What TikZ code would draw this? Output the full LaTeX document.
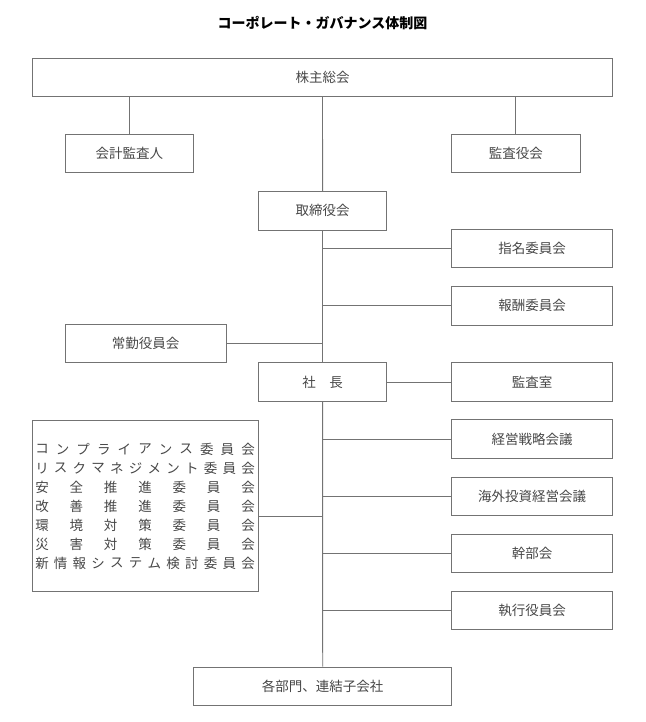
\documentclass[tikz,border=0pt]{standalone}
\usepackage{fontspec}
\setmainfont{Noto Sans CJK JP}
\usepackage{tikz}

\begin{document}
\begin{tikzpicture}[x=1pt, y=-1pt,
  box/.style={draw=black!55, line width=0.9pt, minimum height=38.4pt, inner sep=0pt,
    text=black!72, font=\fontsize{13.5}{16}\selectfont},
  line/.style={draw=black!55, line width=0.9pt},
  listch/.style={inner sep=0pt, text=black!72, font=\fontsize{13.5}{16}\selectfont}]
\useasboundingbox (0,0) rectangle (645,722);

%title
\node[font=\bfseries\fontsize{14}{16}\selectfont] (title) at (322.5,23) {コーポレート・ガバナンス体制図};

%top
\node[box, minimum width=580pt] (soukai) at (322.5,77.5) {株主総会};
\node[box, minimum width=128.5pt] (kaikei) at (129.3,153.5) {会計監査人};
\node[box, minimum width=128.5pt] (kansayaku) at (515.8,153.5) {監査役会};
\node[box, minimum width=128.5pt] (torishimari) at (322.6,210.8) {取締役会};

%right side
\node[box, minimum width=161pt] (shimei) at (532.2,248.5) {指名委員会};
\node[box, minimum width=161pt] (houshu) at (532.2,305.8) {報酬委員会};
\node[box, minimum width=161pt] (kansashitsu) at (532.2,382) {監査室};
\node[box, minimum width=161pt] (senryaku) at (532.2,439.1) {経営戦略会議};
\node[box, minimum width=161pt] (kaigai) at (532.2,496.3) {海外投資経営会議};
\node[box, minimum width=161pt] (kanbu) at (532.2,553.3) {幹部会};
\node[box, minimum width=161pt] (shikkou) at (532.2,610.5) {執行役員会};

%middle
\node[box, minimum width=161pt] (joukin) at (145.5,343.7) {常勤役員会};
\node[box, minimum width=128.5pt] (shacho) at (322.6,382) {社　長};
\node[box, minimum width=258pt] (bumon) at (322.7,686.3) {各部門、連結子会社};

%committees
\node[box, minimum width=225.8pt, minimum height=171pt] (iinkai) at (145.4,505.5) {};
\def\Row#1#2#3{
\foreach \c [count=\i from 0] in {#3}
{ \node[listch] (r#1-\i) at ({42+\i*206/(#2-1)},{449.3+19*#1}) {\c}; }
}
\Row{0}{11}{コ,ン,プ,ラ,イ,ア,ン,ス,委,員,会}
\Row{1}{12}{リ,ス,ク,マ,ネ,ジ,メ,ン,ト,委,員,会}
\Row{2}{7}{安,全,推,進,委,員,会}
\Row{3}{7}{改,善,推,進,委,員,会}
\Row{4}{7}{環,境,対,策,委,員,会}
\Row{5}{7}{災,害,対,策,委,員,会}
\Row{6}{12}{新,情,報,シ,ス,テ,ム,検,討,委,員,会}

%lines
\draw[line] (kaikei.north) -- (kaikei.north |- soukai.south);
\draw[line] (kansayaku.north) -- (kansayaku.north |- soukai.south);
\draw[line] (soukai.south) -- (torishimari.north);
\draw[line] (torishimari.south) -- (shacho.north);
\draw[line] (shacho.south) -- (bumon.north);
\foreach \n in {shimei,houshu}
{ \draw[line] (\n.west) -- (\n.west -| torishimari.south); }
\draw[line] (joukin.east) -- (joukin.east -| torishimari.south);
\draw[line] (shacho.east) -- (kansashitsu.west);
\foreach \n in {senryaku,kaigai,kanbu,shikkou}
{ \draw[line] (\n.west) -- (\n.west -| shacho.south); }
\draw[line] (iinkai.east |- kaigai.south) -- (kaigai.south -| shacho.south);
\end{tikzpicture}
\end{document}
